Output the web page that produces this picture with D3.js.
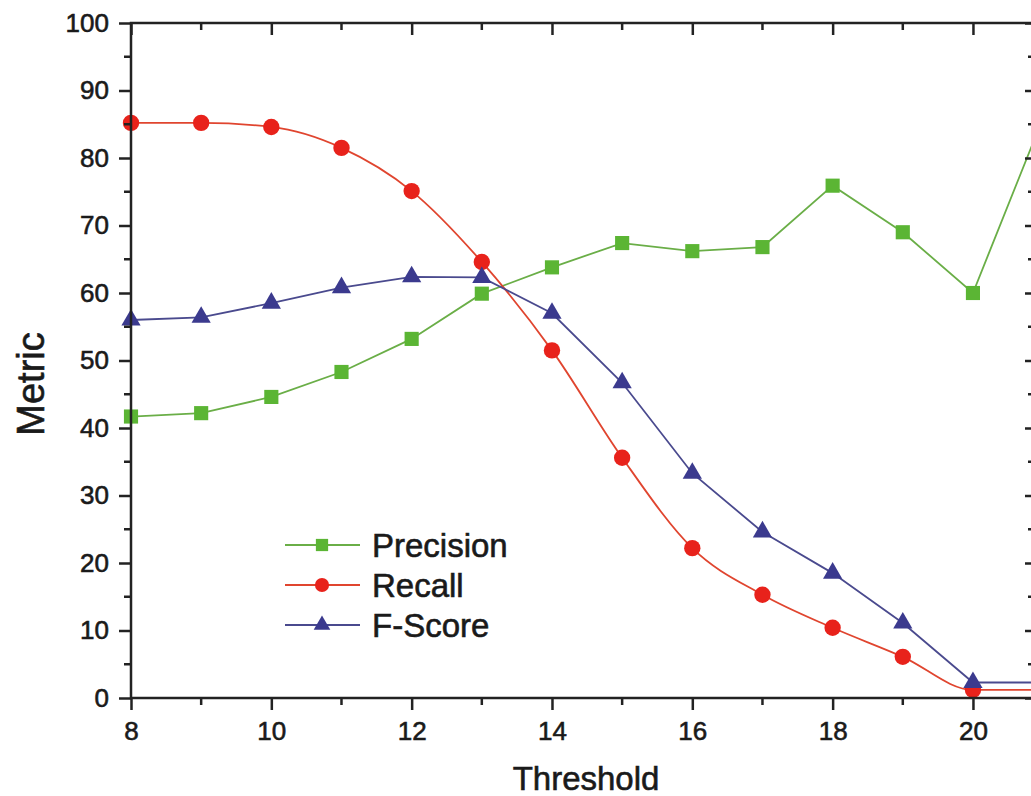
<!DOCTYPE html>
<html>
<head>
<meta charset="utf-8">
<script src="https://cdn.jsdelivr.net/npm/d3@7"></script>
<style>
  body { margin: 0; background: #fff; }
  svg { display: block; }
  text { font-family: "Liberation Sans", Arial, sans-serif; fill: #1a1a1a; stroke: #1a1a1a; stroke-width: 0.6px; }
</style>
</head>
<body>
<svg id="chart" width="1031" height="796"></svg>
<script>
// values
const thresholds = [8, 9, 10, 11, 12, 13, 14, 15, 16, 17, 18, 19, 20, 21];
const precision = [41.7, 42.2, 44.6, 48.3, 53.2, 59.9, 63.8, 67.4, 66.2, 66.8, 75.9, 69.0, 60.0, 86.0];
const recall = [85.2, 85.2, 84.6, 81.5, 75.1, 64.6, 51.5, 35.6, 22.2, 15.3, 10.4, 6.1, 1.2, 1.2];
const fscore = [56.0, 56.4, 58.5, 60.8, 62.4, 62.3, 57.0, 46.7, 33.3, 24.6, 18.5, 11.1, 2.3, 2.3];
const xMajorTicks = [8, 10, 12, 14, 16, 18, 20];
const yMajorTicks = [0, 10, 20, 30, 40, 50, 60, 70, 80, 90, 100];

const series = [
  { name: 'Precision', values: precision, color: '#5bb534', line: '#6aae47', symbol: d3.symbolSquare, size: 200, curve: d3.curveLinear },
  { name: 'Recall', values: recall, color: '#e8221b', line: '#e0452f', symbol: d3.symbolCircle, size: 210, curve: d3.curveMonotoneX },
  { name: 'F-Score', values: fscore, color: '#3b3a8e', line: '#4a4a8e', symbol: d3.symbolTriangle, size: 160, curve: d3.curveLinear }
];

const svg = d3.select('#chart');
const plotLeft = 131, plotRight = 1034, plotTop = 23, plotBottom = 698;

const x = d3.scaleLinear().domain([8, 20.87]).range([plotLeft, plotRight]);
const y = d3.scaleLinear().domain([0, 100]).range([plotBottom, plotTop]);

// data lines
series.forEach(function (s) {
  const line = d3.line()
    .x(function (d, i) { return x(thresholds[i]); })
    .y(function (d) { return y(d); })
    .curve(s.curve);
  svg.append('path')
    .datum(s.values)
    .attr('d', line)
    .attr('fill', 'none')
    .attr('stroke', s.line)
    .attr('stroke-width', 1.8);
});

// markers
series.forEach(function (s) {
  const sym = d3.symbol().type(s.symbol).size(s.size);
  svg.append('g').selectAll('path')
    .data(s.values)
    .join('path')
    .attr('d', sym)
    .attr('transform', function (d, i) { return 'translate(' + x(thresholds[i]) + ',' + y(d) + ')'; })
    .attr('fill', s.color);
});

// axes
const axisColor = '#222';
const minorX = d3.range(8, 22, 1);
const minorY = d3.range(0, 101, 5);

const bottomAxis = d3.axisBottom(x).tickValues(xMajorTicks).tickSize(12).tickPadding(12).tickFormat(d3.format('d'));
const gB = svg.append('g').attr('transform', 'translate(0,' + plotBottom + ')').call(bottomAxis);
const leftAxis = d3.axisLeft(y).tickValues(yMajorTicks).tickSize(12).tickPadding(10).tickFormat(d3.format('d'));
const gL = svg.append('g').attr('transform', 'translate(' + plotLeft + ',0)').call(leftAxis);
const topAxis = d3.axisBottom(x).tickValues(xMajorTicks).tickSize(12).tickFormat('');
const gT = svg.append('g').attr('transform', 'translate(0,' + plotTop + ')').call(topAxis);
const rightAxis = d3.axisLeft(y).tickValues(yMajorTicks).tickSize(9).tickFormat('');
const gR = svg.append('g').attr('transform', 'translate(' + plotRight + ',0)').call(rightAxis);

[gB, gL, gT, gR].forEach(function (g) {
  g.select('.domain').remove();
  g.selectAll('line').attr('stroke', axisColor).attr('stroke-width', 2.5);
});
gB.selectAll('text').style('font-size', '26px').attr('fill', '#1a1a1a');
gL.selectAll('text').style('font-size', '26px').attr('fill', '#1a1a1a');

// minor ticks
const oddX = minorX.filter(function (d) { return d % 2 === 1; });
const halfY = minorY.filter(function (d) { return d % 10 === 5; });
svg.append('g').selectAll('line')
  .data(oddX)
  .join('line')
  .attr('x1', function (d) { return x(d); }).attr('x2', function (d) { return x(d); })
  .attr('y1', plotBottom).attr('y2', plotBottom + 7)
  .attr('stroke', axisColor).attr('stroke-width', 2.5);
svg.append('g').selectAll('line')
  .data(oddX)
  .join('line')
  .attr('x1', function (d) { return x(d); }).attr('x2', function (d) { return x(d); })
  .attr('y1', plotTop).attr('y2', plotTop + 7)
  .attr('stroke', axisColor).attr('stroke-width', 2.5);
svg.append('g').selectAll('line')
  .data(halfY)
  .join('line')
  .attr('x1', plotLeft - 7).attr('x2', plotLeft)
  .attr('y1', function (d) { return y(d); }).attr('y2', function (d) { return y(d); })
  .attr('stroke', axisColor).attr('stroke-width', 2.5);
svg.append('g').selectAll('line')
  .data(halfY)
  .join('line')
  .attr('x1', plotRight - 6).attr('x2', plotRight)
  .attr('y1', function (d) { return y(d); }).attr('y2', function (d) { return y(d); })
  .attr('stroke', axisColor).attr('stroke-width', 2.5);

// frame
svg.append('rect')
  .attr('x', plotLeft).attr('y', plotTop)
  .attr('width', plotRight - plotLeft).attr('height', plotBottom - plotTop)
  .attr('fill', 'none').attr('stroke', axisColor).attr('stroke-width', 2.5);

// axis titles
svg.append('text')
  .attr('x', 586).attr('y', 790)
  .attr('text-anchor', 'middle')
  .style('font-size', '33px')
  .text('Threshold');
svg.append('text')
  .attr('transform', 'translate(44,384) rotate(-90)')
  .attr('text-anchor', 'middle')
  .style('font-size', '38px')
  .text('Metric');

// legend
const legend = svg.append('g').attr('transform', 'translate(285,545)');
series.forEach(function (s, i) {
  const row = legend.append('g').attr('transform', 'translate(0,' + (i * 40) + ')');
  row.append('line')
    .attr('x1', 0).attr('x2', 75).attr('y1', 0).attr('y2', 0)
    .attr('stroke', s.line).attr('stroke-width', 1.8);
  row.append('path')
    .attr('d', d3.symbol().type(s.symbol).size(s.size * 0.75))
    .attr('transform', 'translate(37,0)')
    .attr('fill', s.color);
  row.append('text')
    .attr('x', 87).attr('y', 12)
    .style('font-size', '33px')
    .text(s.name);
});
</script>
</body>
</html>
